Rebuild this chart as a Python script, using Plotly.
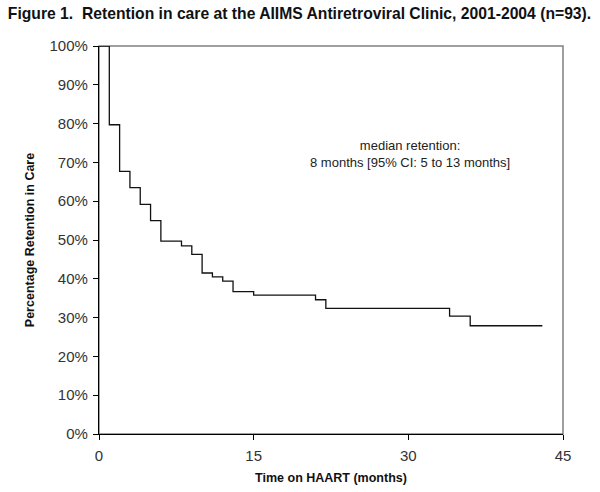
import plotly.graph_objects as go

# Kaplan-Meier style retention curve (months, % retained)
months = [0, 1, 2, 3, 4, 5, 6, 8, 9, 10, 11, 12, 13, 15, 21, 22, 34, 36, 43]
retention = [100, 79.7, 67.7, 63.5, 59.2, 55.0, 49.7, 48.5, 46.3, 41.5, 40.5,
             39.4, 36.7, 35.8, 34.6, 32.4, 30.4, 27.9, 27.9]

x_ticks = [0, 15, 30, 45]
y_ticks = [0, 10, 20, 30, 40, 50, 60, 70, 80, 90, 100]
y_tick_labels = [f"{v}%" for v in y_ticks]

title_text = "Figure 1.  Retention in care at the AIIMS Antiretroviral Clinic, 2001-2004 (n=93)."
note_text = "median retention:<br>8 months [95% CI: 5 to 13 months]"
note_x, note_y = 30.2, 72.2

FONT = "Liberation Sans, Arial, sans-serif"

fig = go.Figure()
fig.add_trace(go.Scatter(
    x=months, y=retention, mode="lines", line_shape="hv",
    line=dict(color="#111111", width=1.3), showlegend=False, hoverinfo="skip"))

fig.add_shape(type="rect", xref="x domain", yref="y domain", x0=0, x1=1, y0=0, y1=1,
              line=dict(color="#808080", width=1.5), layer="below")

fig.add_annotation(x=note_x, y=note_y, text=note_text, showarrow=False,
                   font=dict(family=FONT, size=13, color="#222222"), align="center")

fig.update_layout(
    width=600, height=492,
    margin=dict(l=99, r=37, t=46, b=58),
    paper_bgcolor="white", plot_bgcolor="white",
    title=dict(text=f"<b>{title_text}</b>", x=0.013, xanchor="left", y=0.972, yanchor="middle",
               font=dict(family=FONT, size=15.7, color="#111111")),
    xaxis=dict(range=[0, 45], tickvals=x_ticks, ticks="outside", ticklen=5,
               tickcolor="black", showline=True, linecolor="black", linewidth=1.2,
               showgrid=False, zeroline=False, automargin=False, ticklabelstandoff=3,
               tickfont=dict(family=FONT, size=15, color="#333333"),
               title=dict(text="<b>Time on HAART (months)</b>", standoff=10,
                          font=dict(family=FONT, size=12.5, color="#111111"))),
    yaxis=dict(range=[0, 100], tickvals=y_ticks, ticktext=y_tick_labels,
               ticks="outside", ticklen=5, tickcolor="black", showline=True,
               linecolor="black", linewidth=1.2, showgrid=False, zeroline=False,
               automargin=False, ticklabelstandoff=2,
               tickfont=dict(family=FONT, size=15, color="#333333"),
               title=dict(text="<b>Percentage Retention in Care</b>", standoff=12,
                          font=dict(family=FONT, size=12.5, color="#111111"))),
)

fig.write_html("out.html", config={"displayModeBar": False},
               post_script="document.body.style.margin='0';")
